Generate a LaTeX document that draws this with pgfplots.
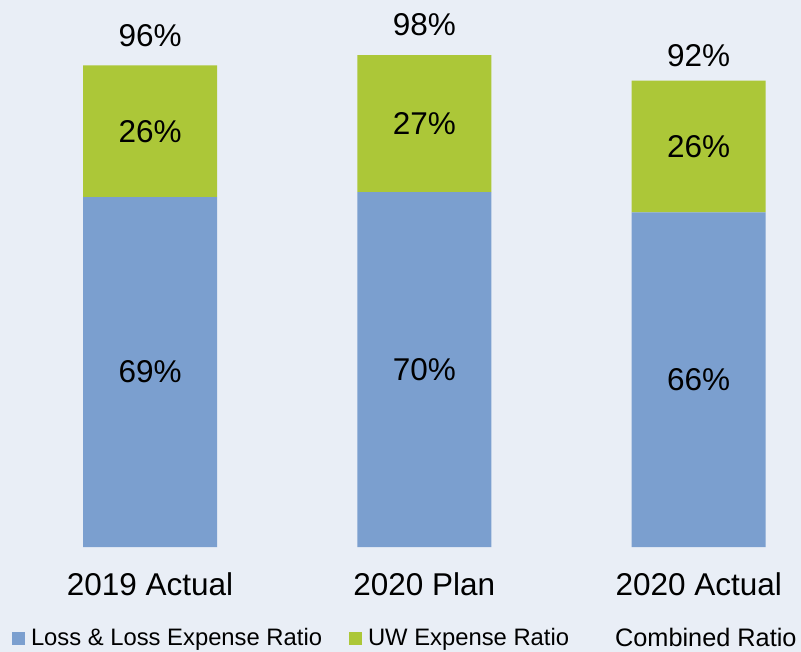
\documentclass[border=0pt]{standalone}
\usepackage{pgfplots}
\pgfplotsset{compat=1.18}
\usepackage{fontspec}
\setmainfont{Liberation Sans}
\definecolor{bg}{HTML}{E9EEF6}
\definecolor{lossblue}{HTML}{7B9FCF}
\definecolor{uwgreen}{HTML}{ACC738}
\newcommand{\bigfont}{\fontsize{31.5bp}{36bp}\selectfont}
\pgfplotsset{
  basegeom/.style={
    at={(0bp,105bp)}, anchor=south west,
    scale only axis, width=801bp, height=507bp,
    xmin=-0.547, xmax=2.373, ymin=0, ymax=100,
    clip=false, axis line style={draw=none},
    ytick=\empty, major tick length=0pt,
  }
}
\begin{document}
\begin{tikzpicture}
\fill[bg] (0,0) rectangle (801bp,652bp);
\path[use as bounding box] (0,0) rectangle (801bp,652bp);
\begin{axis}[basegeom,
  ybar stacked, bar width=134bp,
  xtick={0,1,2}, xticklabels={2019 Actual,2020 Plan,2020 Actual},
  xticklabel style={anchor=base, yshift=-48bp, font=\bigfont},
  legend columns=3,
  legend style={at={(0.015,-0.1795)}, anchor=west, draw=none, fill=none,
     inner sep=0pt, outer sep=0pt,
     font=\fontsize{23.8bp}{27bp}\selectfont, column sep=6bp,
     /tikz/every even column/.append style={column sep=27bp},
     nodes={inner sep=0pt}},
  legend cell align=left,
]
\addplot[fill=lossblue, draw=none,
  legend image code/.code={\fill[lossblue] (0bp,-6.5bp) rectangle (13bp,6.5bp);}]
  coordinates {(0,69) (1,70) (2,66)};
\addlegendentry{Loss \& Loss Expense Ratio}
\addplot[fill=uwgreen, draw=none,
  legend image code/.code={\fill[uwgreen] (0bp,-6.5bp) rectangle (13bp,6.5bp);}]
  coordinates {(0,26) (1,27) (2,26)};
\addlegendentry{UW Expense Ratio}
\addlegendimage{legend image code/.code={\path[draw=none,fill=none] (0bp,-6.5bp) rectangle (13bp,6.5bp);}}
\addlegendentry{\fontsize{25.3bp}{28bp}\selectfont Combined Ratio}
\end{axis}
\begin{axis}[basegeom, xtick=\empty]
% segment labels at segment mid-heights
\addplot[only marks, mark=none, point meta=explicit symbolic,
  nodes near coords={\pgfplotspointmeta\%},
  nodes near coords style={anchor=center, font=\bigfont}]
  table[meta=v] {
x y v
0 34.5 69
1 35 70
2 33 66
0 82 26
1 83.5 27
2 79 26
};
% combined ratio
\addplot[only marks, mark=none, point meta=explicit symbolic,
  nodes near coords={\pgfplotspointmeta\%},
  nodes near coords style={anchor=center, yshift=25bp, font=\bigfont}]
  table[meta=v] {
x y v
0 96 96
1 98 98
2 92 92
};
\end{axis}
\end{tikzpicture}
\end{document}
